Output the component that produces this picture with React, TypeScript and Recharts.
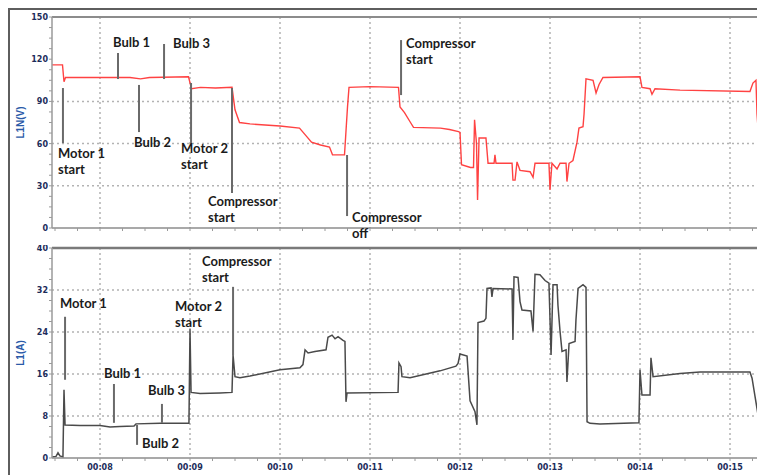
import React from 'react';
import {
  LineChart,
  Line,
  XAxis,
  YAxis,
  CartesianGrid,
  ReferenceLine,
  ReferenceDot,
} from 'recharts';

// time in seconds since 00:00
const voltTime = [
  448, 455, 456, 457, 480, 500, 507, 513, 539, 541, 547, 557, 568, 570, 573, 580, 600, 613, 617, 621,
  627, 633, 635, 643, 645, 646, 660, 679, 680, 683, 687, 689, 707, 713, 719, 720, 721, 727, 729, 729.7,
  731, 731.7, 732.7, 737.3, 738.7, 742.7, 743.3, 744, 754.7, 755.3, 756.7, 758, 760, 766.7, 768.7, 770,
  779.3, 780, 781.3, 784.7, 786.7, 790.7, 791.3, 792.7, 795.3, 798, 799.3, 802, 802.7, 804, 808.7, 810.7,
  812.7, 815.3, 840, 841.3, 846.7, 848, 850, 866.7, 913.3, 915.3, 917.3, 918, 919.3, 920, 921.3, 925,
];
const voltValue = [
  116, 116, 104, 107, 107, 107, 106, 107, 107.5, 99, 100, 99.5, 100, 84, 75, 74, 72.5, 71, 66, 61,
  59, 57.5, 52, 52, 86, 100, 100.5, 100, 86, 82, 75, 71.5, 71, 70, 68.5, 68, 45, 43, 43, 77,
  60, 20, 64, 64, 46, 46, 52, 46, 46, 34, 34, 47, 41, 40, 36, 46,
  46, 27, 46, 42, 46, 46, 33, 46, 48, 61, 71, 72, 81, 106, 105, 96,
  102, 107, 107.5, 100, 99, 95, 99, 98, 97, 103, 105, 81, 62, 24, 0, 0,
];

const ampTime = [
  448, 450.7, 452, 453.3, 455.3, 456, 456.7, 466.7, 480, 486.7, 493.3, 502.7, 504, 520, 539.3, 540, 540.7,
  546.7, 560, 568, 568.7, 570, 573.3, 580, 600, 613.3, 615.3, 616.7, 618.7, 623.3, 630.7, 632, 634.7,
  636.7, 638.7, 642, 643.3, 644, 644.7, 678.7, 679.3, 680.7, 681.3, 686.7, 706.7, 717.3, 718.7, 720,
  724.7, 726.7, 730, 731.3, 732, 736, 737.3, 738, 740.7, 741.3, 742, 754.7, 755.3, 756, 758.7, 760,
  761.3, 767.3, 768.7, 770, 773.3, 776.7, 779.3, 780.7, 782, 784.7, 785.3, 786.7, 788, 790.7, 791.3,
  792.7, 796.7, 797.3, 798.7, 802, 804, 804.7, 806.7, 813.3, 839.3, 840, 841.3, 846.7, 847.3, 848.7,
  866.7, 880, 913.3, 914.7, 916.7, 918.7, 920, 921.3, 924,
];
const ampValue = [
  0.2, 0.3, 1.0, 0.4, 0.2, 13, 6.3, 6.2, 6.2, 5.9, 6.0, 6.1, 6.5, 6.6, 6.6, 24.5, 12.5,
  12.3, 12.4, 12.5, 19.6, 15.5, 15.3, 15.6, 16.8, 17.2, 17.8, 20.6, 20.0, 20.3, 20.6, 23, 23.4,
  22.7, 23.1, 22.4, 22.2, 10.7, 12.4, 12.5, 18.1, 17.4, 15.5, 15.3, 16.6, 17.5, 18, 19.8,
  19.4, 10.9, 8.8, 6.3, 25.8, 26.1, 26.6, 32.3, 32.4, 30.7, 32.3, 32.2, 22.5, 34.5, 34.4, 29.8,
  28.2, 28, 24.1, 35, 34.9, 33.8, 33.3, 19.6, 33, 33, 29.1, 24.1, 20.3, 20.6, 14.5,
  21.8, 22.2, 26.3, 32.3, 33, 32.5, 6.9, 6.6, 6.5, 6.7, 16.8, 12, 12, 19.1, 15.5,
  16.1, 16.4, 16.4, 15.2, 11.7, 8.2, 3.1, 0.6, 0.2,
];

const minuteTicks = [480, 540, 600, 660, 720, 780, 840, 900];
const voltTicks = [0, 7.5, 15, 22.5, 30, 37.5, 45, 52.5, 60, 67.5, 75, 82.5, 90, 97.5, 105, 112.5, 120, 127.5, 135, 142.5, 150];
const ampTicks = [0, 2, 4, 6, 8, 10, 12, 14, 16, 18, 20, 22, 24, 26, 28, 30, 32, 34, 36, 38, 40];
const voltGrid = [30, 60, 90];
const ampGrid = [8, 16, 24, 32];

// annotations: [text lines, text time, text value, line time, line from, line to]
const voltNotes: [string[], number, number, number, number, number][] = [
  [['Bulb 1'], 488.7, 128.7, 492, 124.4, 105.9],
  [['Bulb 3'], 528.7, 128, 522.7, 130.8, 105.9],
  [['Bulb 2'], 502.7, 57.6, 506, 101.7, 68.2],
  [['Motor 1', 'start'], 452, 49.8, 455.3, 99.5, 60.4],
  [['Motor 2', 'start'], 534, 53.3, 540.7, 103.1, 60.4],
  [['Compressor', 'start'], 552, 15.6, 568, 99.5, 24.9],
  [['Compressor', 'off'], 648, 4.2, 644.7, 51.9, 8.5],
  [['Compressor', 'start'], 684, 128, 680.7, 133.6, 94.5],
];
const ampNotes: [string[], number, number, number, number, number][] = [
  [['Motor 1'], 453.3, 28.6, 456.7, 26.9, 14.9],
  [['Bulb 1'], 482.7, 15.2, 489.3, 14.1, 6.7],
  [['Bulb 3'], 512, 12, 521.3, 10.3, 6.7],
  [['Bulb 2'], 508, 1.9, 504.7, 6.3, 2.5],
  [['Motor 2', 'start'], 530, 28, 0, 0, 0],
  [['Compressor', 'start'], 548, 36.6, 568.7, 32.6, 19.6],
];

const voltData = voltTime.map((t, i) => ({ t, v: voltValue[i] }));
const ampData = ampTime.map((t, i) => ({ t, a: ampValue[i] }));

const xTicks: number[] = [];
for (let s = 450; s <= 915; s += 15) xTicks.push(s);

const DOMAIN: [number, number] = [448, 925.33];
const TICK_FONT = 'DejaVu Sans';
const TICK_COLOR = '#1c2c5a';

const NoteText = ({ cx, cy, lines }: any) => (
  <text x={cx} y={cy} fontFamily="Lato" fontWeight={700} fontSize={13} fill="#1b1b1b">
    {lines.map((l: string, i: number) => (
      <tspan key={i} x={cx} dy={i === 0 ? 0 : 16}>
        {l}
      </tspan>
    ))}
  </text>
);

const TimeTick = ({ x, y, payload, show }: any) => {
  if (!show || payload.value % 60 !== 0) return <g />;
  const m = Math.round(payload.value / 60);
  return (
    <text x={x} y={y} dy={7} textAnchor="middle" fontFamily={TICK_FONT} fontSize={8} fontWeight={700} fill={TICK_COLOR}>
      {`00:${m < 10 ? '0' + m : m}`}
    </text>
  );
};

const ValueTick = ({ x, y, payload, step }: any) => {
  if (payload.value % step !== 0) return <g />;
  return (
    <text x={x} y={y} dy={3} textAnchor="end" fontFamily={TICK_FONT} fontSize={8} fontWeight={700} fill={TICK_COLOR}>
      {payload.value}
    </text>
  );
};

function renderNotes(notes: typeof voltNotes, prefix: string) {
  const out: React.ReactNode[] = [];
  notes.forEach((n, i) => {
    const [lines, tx, ty, lx, y1, y2] = n;
    if (lx > 0) {
      out.push(
        <ReferenceLine
          key={`${prefix}l${i}`}
          segment={[{ x: lx, y: y1 }, { x: lx, y: y2 }]}
          stroke="#6a6a6a"
          strokeWidth={2}
        />
      );
    }
    out.push(
      <ReferenceDot
        key={`${prefix}d${i}`}
        x={tx}
        y={ty}
        r={0}
        ifOverflow="visible"
        shape={(p: any) => <NoteText cx={p.cx} cy={p.cy} lines={lines} />}
      />
    );
  });
  return out;
}

const axisLabel = {
  angle: -90,
  position: 'insideLeft' as const,
  offset: 12,
  style: { textAnchor: 'middle', fill: '#2a5aa8', fontSize: 10, fontWeight: 700, fontFamily: 'Liberation Sans' },
};

export default function App() {
  return (
    <div style={{ position: 'relative', width: 757, height: 467, overflow: 'hidden' }}>
      <div style={{ position: 'absolute', left: 0, top: 0 }}>
        <LineChart width={765} height={237} data={voltData} margin={{ top: 9, right: 5, bottom: 0, left: 0 }}>
          <CartesianGrid
            horizontalValues={voltGrid}
            verticalValues={minuteTicks}
            stroke="#b3b3b3"
            strokeWidth={1.5}
            strokeDasharray="2 3"
          />
          <XAxis
            dataKey="t"
            type="number"
            domain={DOMAIN}
            allowDataOverflow
            ticks={xTicks}
            interval={0}
            height={17}
            tickSize={3}
            tick={<TimeTick show={false} />}
            axisLine={{ stroke: '#8c8c8c', strokeWidth: 1.5 }}
            tickLine={{ stroke: '#9a9a9a' }}
          />
          <YAxis
            type="number"
            domain={[0, 150]}
            ticks={voltTicks}
            interval={0}
            width={44}
            tickSize={3}
            tickMargin={1}
            tick={<ValueTick step={30} />}
            axisLine={{ stroke: '#9a9a9a', strokeWidth: 1.5 }}
            tickLine={{ stroke: '#9a9a9a' }}
            label={{ ...axisLabel, value: 'L1N(V)' }}
          />
          <ReferenceLine y={150} stroke="#8c8c8c" strokeWidth={2} />
          <Line
            type="linear"
            dataKey="v"
            stroke="#ff4242"
            strokeWidth={1.4}
            dot={false}
            isAnimationActive={false}
          />
          {renderNotes(voltNotes, 'v')}
        </LineChart>
      </div>
      <div style={{ position: 'absolute', left: 0, top: 237 }}>
        <LineChart width={765} height={230} data={ampData} margin={{ top: 3, right: 5, bottom: 0, left: 0 }}>
          <CartesianGrid
            horizontalValues={ampGrid}
            verticalValues={minuteTicks}
            stroke="#b3b3b3"
            strokeWidth={1.5}
            strokeDasharray="2 3"
          />
          <XAxis
            dataKey="t"
            type="number"
            domain={DOMAIN}
            allowDataOverflow
            ticks={xTicks}
            interval={0}
            height={17}
            tickSize={3}
            tick={<TimeTick show />}
            axisLine={{ stroke: '#8c8c8c', strokeWidth: 1.5 }}
            tickLine={{ stroke: '#9a9a9a' }}
          />
          <YAxis
            type="number"
            domain={[0, 40]}
            ticks={ampTicks}
            interval={0}
            width={44}
            tickSize={3}
            tickMargin={1}
            tick={<ValueTick step={8} />}
            axisLine={{ stroke: '#9a9a9a', strokeWidth: 1.5 }}
            tickLine={{ stroke: '#9a9a9a' }}
            label={{ ...axisLabel, value: 'L1(A)' }}
          />
          <ReferenceLine y={40} stroke="#7a7a7a" strokeWidth={2.5} />
          <Line
            type="linear"
            dataKey="a"
            stroke="#4a4a4a"
            strokeWidth={1.5}
            dot={false}
            isAnimationActive={false}
          />
          {renderNotes(ampNotes, 'a')}
        </LineChart>
      </div>
      <div
        style={{
          position: 'absolute',
          left: 0,
          top: 0,
          width: 757,
          height: 467,
          boxSizing: 'border-box',
          borderLeft: '2px solid #5e5e5e',
          borderTop: '2px solid #5e5e5e',
          pointerEvents: 'none',
        }}
      />
    </div>
  );
}
